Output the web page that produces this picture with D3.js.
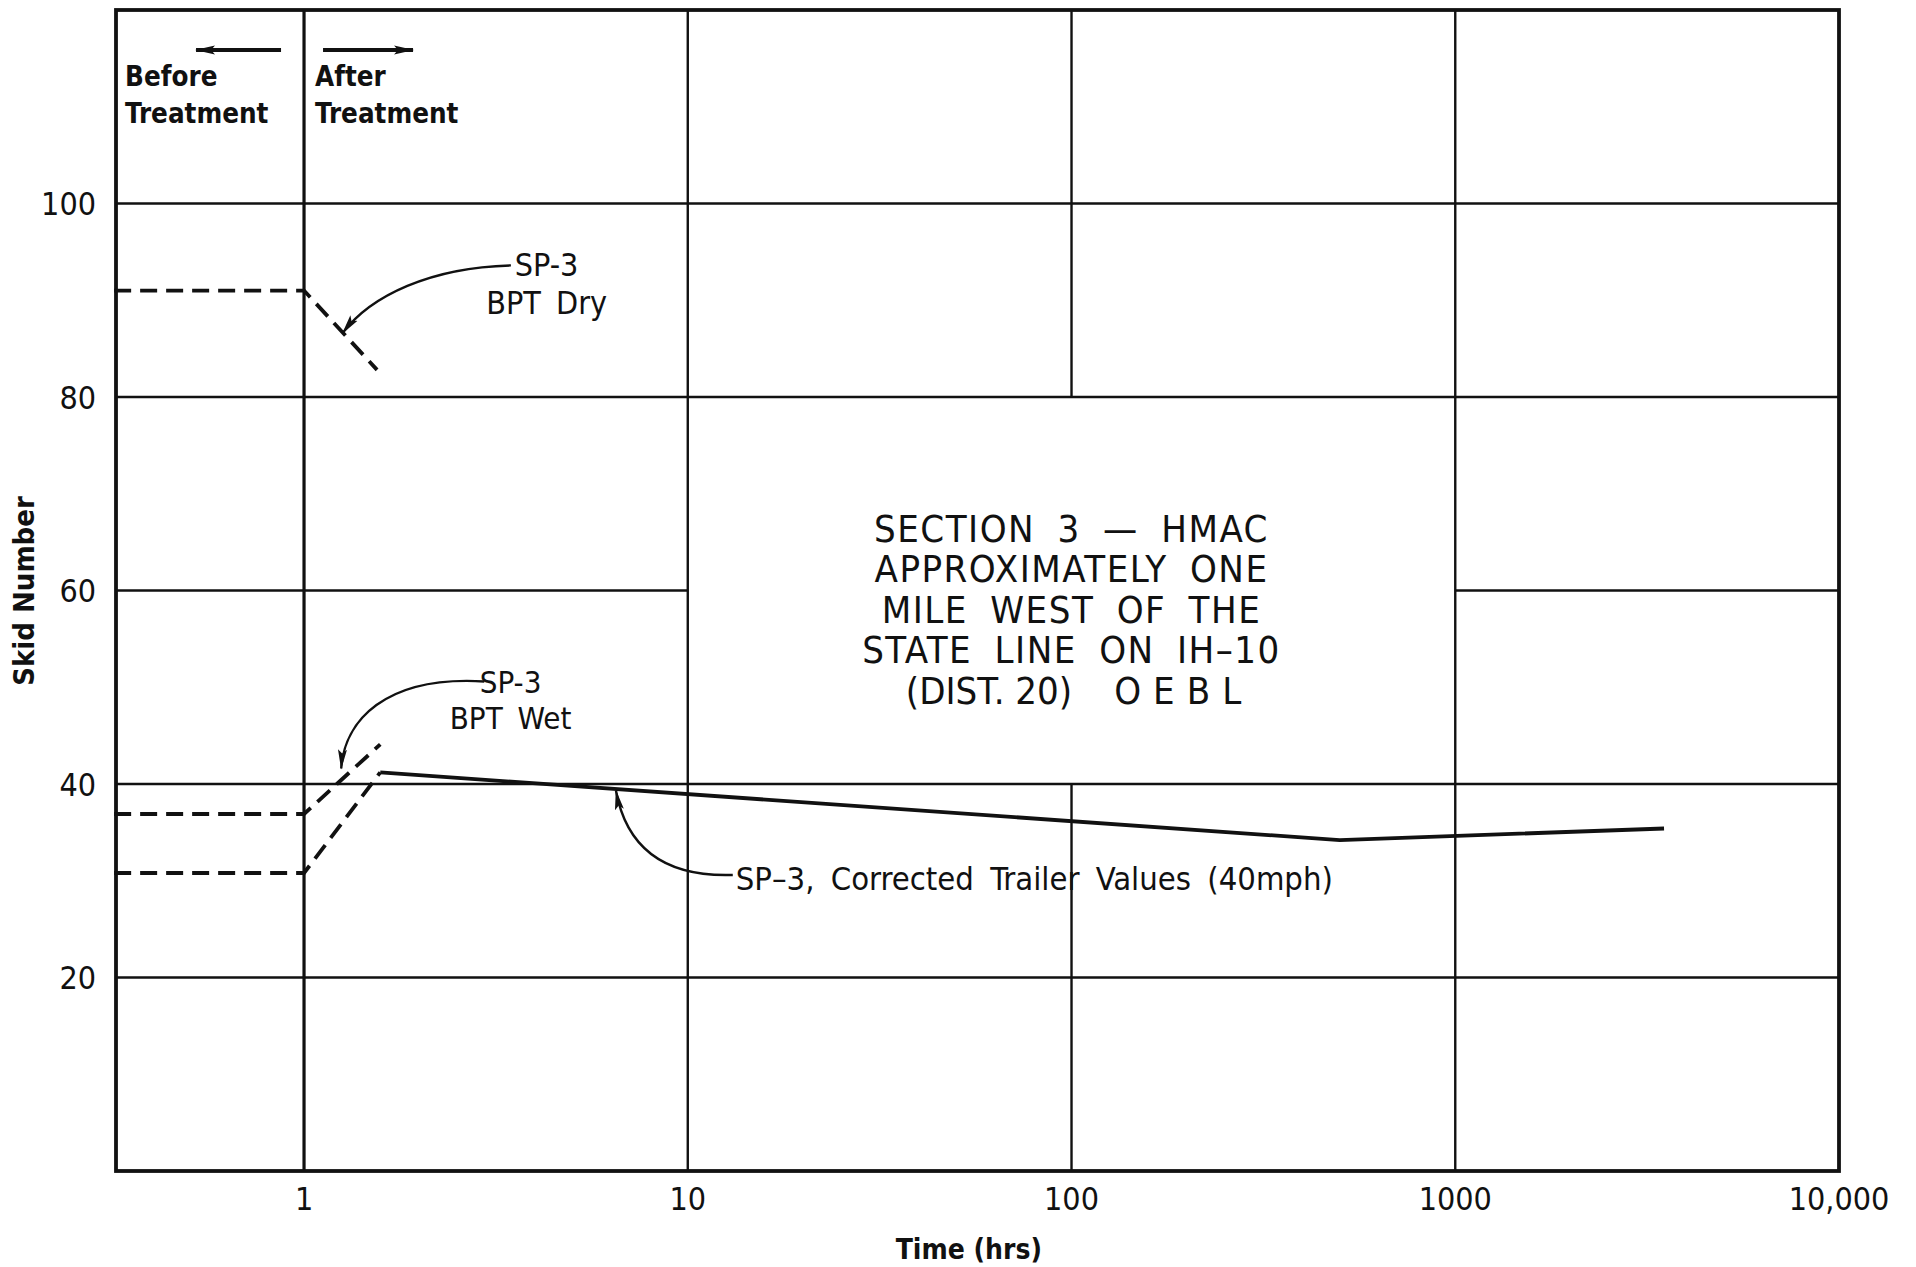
<!DOCTYPE html>
<html>
<head>
<meta charset="utf-8">
<script src="https://cdn.jsdelivr.net/npm/d3@7"></script>
<style>
  body { margin: 0; background: #fff; }
  svg text { font-family: "DejaVu Sans Condensed", "DejaVu Sans", sans-serif; fill: #111; }
</style>
</head>
<body>
<svg id="chart"></svg>
<script>
const margin = { t: 10, r: 77, b: 96, l: 116 };
const size = { w: 1916, h: 1267 };

// axis ticks
const xTicks = [1, 10, 100, 1000, 10000];
const xTickLabels = ["1", "10", "100", "1000", "10,000"];
const yTicks = [20, 40, 60, 80, 100];

// series (time in hrs, skid number)
const trailerTime = [1.58, 500, 3500];
const trailerSkid = [41.2, 34.2, 35.4];
const dryTime = [0.32, 1, 1.55];
const drySkid = [91, 91, 82.8];
const wetHighTime = [0.32, 1, 1.58];
const wetHighSkid = [36.9, 36.9, 44.1];
const wetLowTime = [0.32, 1, 1.58];
const wetLowSkid = [30.8, 30.8, 41.2];

const sectionLines = [
	"SECTION 3 \u2014 HMAC",
	"APPROXIMATELY ONE",
	"MILE WEST OF THE",
	"STATE LINE ON IH\u201310",
];
const sectionLast = ["(DIST. 20)", "OEBL"];

const svg = d3.select("svg#chart").attr("width", size.w).attr("height", size.h);
const w = size.w - margin.l - margin.r;
const h = size.h - margin.t - margin.b;
const g = svg.append("g").attr("transform", `translate(${margin.l}, ${margin.t})`);

const x = d3.scaleLog().domain([Math.pow(10, -0.49), 10000]).range([0, w]);
const y = d3.scaleLinear().domain([0, 120]).range([h, 0]);

// arrow marker
svg.append("defs")
	.append("marker")
	.attr("id", "head")
	.attr("viewBox", "0 0 20 10")
	.attr("refX", 19)
	.attr("refY", 5)
	.attr("markerWidth", 20)
	.attr("markerHeight", 10)
	.attr("markerUnits", "userSpaceOnUse")
	.attr("orient", "auto")
	.append("path")
	.attr("d", "M0,0.5 L20,5 L0,9.5 L4,5 Z")
	.attr("fill", "#111");

// grid - horizontal (the 60 line skips the boxed text area)
const hGrid = [
	{ v: 20, from: x.domain()[0], to: 10000 },
	{ v: 40, from: x.domain()[0], to: 10000 },
	{ v: 60, from: x.domain()[0], to: 10 },
	{ v: 60, from: 1000, to: 10000 },
	{ v: 80, from: x.domain()[0], to: 10000 },
	{ v: 100, from: x.domain()[0], to: 10000 },
];
g.selectAll("line.hgrid")
	.data(hGrid)
	.join("line")
	.attr("class", "hgrid")
	.attr("x1", (d) => x(d.from))
	.attr("x2", (d) => x(d.to))
	.attr("y1", (d) => y(d.v))
	.attr("y2", (d) => y(d.v))
	.attr("stroke", "#111")
	.attr("stroke-width", 2.4);

// grid - vertical (the 100 line skips the boxed text area)
const vGrid = [
	{ v: 1, from: 0, to: 120, sw: 3.2 },
	{ v: 10, from: 0, to: 120, sw: 2.4 },
	{ v: 100, from: 0, to: 40, sw: 2.4 },
	{ v: 100, from: 80, to: 120, sw: 2.4 },
	{ v: 1000, from: 0, to: 120, sw: 2.4 },
];
g.selectAll("line.vgrid")
	.data(vGrid)
	.join("line")
	.attr("class", "vgrid")
	.attr("x1", (d) => x(d.v))
	.attr("x2", (d) => x(d.v))
	.attr("y1", (d) => y(d.from))
	.attr("y2", (d) => y(d.to))
	.attr("stroke", "#111")
	.attr("stroke-width", (d) => d.sw);

// frame
g.append("rect")
	.attr("x", 0)
	.attr("y", 0)
	.attr("width", w)
	.attr("height", h)
	.attr("fill", "none")
	.attr("stroke", "#111")
	.attr("stroke-width", 3.8);

// y labels
g.selectAll("text.ytick")
	.data(yTicks)
	.join("text")
	.attr("class", "ytick")
	.attr("x", -20)
	.attr("y", (d) => y(d))
	.attr("dy", "0.36em")
	.attr("text-anchor", "end")
	.attr("font-size", 32)
	.text((d) => d);

// x labels
g.selectAll("text.xtick")
	.data(xTicks)
	.join("text")
	.attr("class", "xtick")
	.attr("x", (d) => x(d))
	.attr("y", h + 39)
	.attr("text-anchor", "middle")
	.attr("font-size", 32)
	.text((d, i) => xTickLabels[i]);

// axis titles
g.append("text")
	.attr("x", x(54))
	.attr("y", 1259 - margin.t)
	.attr("text-anchor", "middle")
	.attr("font-size", 28)
	.attr("font-weight", "bold")
	.text("Time (hrs)");

svg.append("text")
	.attr("transform", "translate(34, 591) rotate(-90)")
	.attr("text-anchor", "middle")
	.attr("font-size", 29)
	.attr("font-weight", "bold")
	.text("Skid Number");

// lines
const line = d3.line().x((d) => x(d[0])).y((d) => y(d[1]));
const dashed = [
	d3.zip(dryTime, drySkid),
	d3.zip(wetHighTime, wetHighSkid),
	d3.zip(wetLowTime, wetLowSkid),
];
g.selectAll("path.dashed")
	.data(dashed)
	.join("path")
	.attr("class", "dashed")
	.attr("d", line)
	.attr("fill", "none")
	.attr("stroke", "#111")
	.attr("stroke-width", 3.8)
	.attr("stroke-dasharray", "17,9");

g.append("path")
	.attr("d", line(d3.zip(trailerTime, trailerSkid)))
	.attr("fill", "none")
	.attr("stroke", "#111")
	.attr("stroke-width", 3.8);

// before / after arrows
const arrowY = 40;
g.append("line")
	.attr("x1", x(1) - 23).attr("x2", x(1) - 108)
	.attr("y1", arrowY).attr("y2", arrowY)
	.attr("stroke", "#111").attr("stroke-width", 3.8)
	.attr("marker-end", "url(#head)");
g.append("line")
	.attr("x1", x(1) + 19).attr("x2", x(1) + 109)
	.attr("y1", arrowY).attr("y2", arrowY)
	.attr("stroke", "#111").attr("stroke-width", 3.8)
	.attr("marker-end", "url(#head)");

const label = (tx, ty, lines, opts = {}) => {
	const t = g.append("text")
		.attr("x", tx)
		.attr("y", ty)
		.attr("font-size", opts.size || 29)
		.attr("font-weight", opts.weight || "normal")
		.attr("text-anchor", opts.anchor || "start")
		.attr("letter-spacing", opts.ls || 0)
		.attr("word-spacing", opts.ws || 0);
	lines.forEach((l, i) =>
		t.append("tspan").attr("x", tx).attr("dy", i === 0 ? 0 : opts.lh || 36).text(l)
	);
	return t;
};

label(x(1) - 179, 76, ["Before", "Treatment"], { weight: "bold", size: 27.5, lh: 37 });
label(x(1) + 11, 76, ["After", "Treatment"], { weight: "bold", size: 27.5, lh: 37 });

// series labels with leaders
label(x(3.1) + 54, 266, ["SP-3", "BPT  Dry"], { anchor: "middle", size: 32, lh: 38, ws: 6 });
label(x(2.7) + 41, 683, ["SP-3", "BPT  Wet"], { anchor: "middle", size: 31, lh: 36, ws: 6 });
label(x(13.1) + 3, 880, ["SP\u20133,  Corrected  Trailer  Values  (40mph)"], { size: 32.5, ws: 7 });

const leaders = [
	{ s: [3.46, 93.6], e: [1.26, 86.6], c1: [-80, 2], c2: [-140, 30] },
	{ s: [2.95, 50.6], e: [1.25, 41.6], c1: [-100, -6], c2: [-140, 40] },
	{ s: [13.1, 30.6], e: [6.5, 39.3], c1: [-60, 2], c2: [-105, -20] },
];
g.selectAll("path.leader")
	.data(leaders)
	.join("path")
	.attr("class", "leader")
	.attr("d", (d) => {
		const sx = x(d.s[0]), sy = y(d.s[1]);
		const ex = x(d.e[0]), ey = y(d.e[1]);
		const p = d3.path();
		p.moveTo(sx, sy);
		p.bezierCurveTo(sx + d.c1[0], sy + d.c1[1], sx + d.c2[0], sy + d.c2[1], ex, ey);
		return p.toString();
	})
	.attr("fill", "none")
	.attr("stroke", "#111")
	.attr("stroke-width", 2.4)
	.attr("marker-end", "url(#head)");

// section description
const secTop = y(60) - 49;
label(x(100), secTop, sectionLines, { anchor: "middle", size: 38, lh: 40.5, ls: 1.5, ws: 10 });
const last = g.append("text")
	.attr("x", x(100) + 8)
	.attr("y", secTop + 4 * 40.5)
	.attr("text-anchor", "middle")
	.attr("font-size", 38);
last.append("tspan").text(sectionLast[0]);
last.append("tspan").attr("dx", 42).attr("letter-spacing", 12).text(sectionLast[1]);
</script>
</body>
</html>
